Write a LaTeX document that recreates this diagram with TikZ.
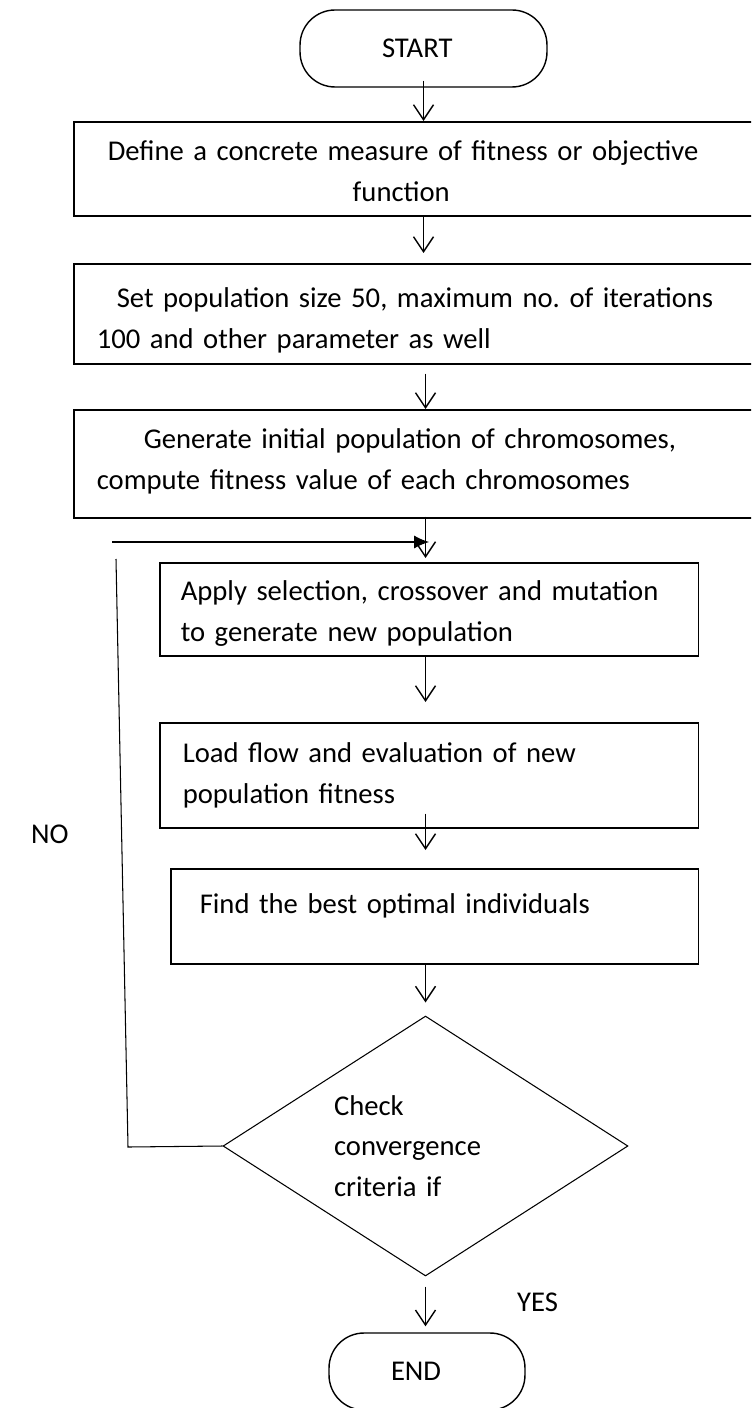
\documentclass[tikz,border=0pt]{standalone}
\usepackage{fontspec}
\setmainfont{Carlito}
\frenchspacing
\usetikzlibrary{shapes,arrows.meta,positioning,calc}

\begin{document}
\begin{tikzpicture}[
    x=0.02cm,
    y=-0.02cm,
    font=\fontsize{16.3}{23}\selectfont,
    terminal/.style={
        rectangle,
        draw,
        line width=0.8pt,
        rounded corners=0.7cm,
        minimum height=1.54cm,
        inner ysep=0pt,
        align=left
    },
    block/.style={
        rectangle,
        draw,
        line width=0.9pt,
        anchor=north west,
        align=left,
        inner ysep=0pt
    },
    decision/.style={
        diamond,
        draw,
        line width=0.6pt,
        aspect=1.56,
        minimum width=8.1cm,
        minimum height=5.2cm,
        inner sep=0pt,
        text width=3.66cm,
        align=left
    },
    line/.style={
        draw,
        -{Straight Barb[length=0.3cm,width=0.4cm]},
        line width=0.8pt
    },
    feedback/.style={
        draw,
        line width=0.6pt
    }
]

% Page
\useasboundingbox (0,0) rectangle (751,1408);
\clip (0,0) rectangle (751,1408);

% Nodes
\node [terminal, inner xsep=1.64cm, text width=1.66cm] (start) at (423.5,48.5) {START};
\node [block, minimum width=13.74cm, inner xsep=0.68cm, text width=12.38cm, text height=0.78cm, text depth=1.10cm] (define) at (73,121) {Define a concrete measure of fitness or objective\\\hspace*{4.9cm}function};
\node [block, minimum width=13.74cm, inner xsep=0.46cm, text width=12.82cm, text height=0.88cm, text depth=1.12cm] (params) at (73,263) {\hspace*{0.4cm}Set population size 50, maximum no. of iterations\\100 and other parameter as well};
\node [block, minimum width=13.74cm, inner xsep=0.46cm, text width=12.82cm, text height=0.78cm, text depth=1.38cm] (init) at (73,409) {\hspace*{0.94cm}Generate initial population of chromosomes,\\compute fitness value of each chromosomes};
\node [block, inner xsep=0.42cm, text width=9.94cm, text height=0.76cm, text depth=1.10cm] (apply) at (159,562) {Apply selection, crossover and mutation\\to generate new population};
\node [block, inner xsep=0.46cm, text width=9.86cm, text height=0.80cm, text depth=1.30cm] (load) at (159,722) {Load flow and evaluation of new\\population fitness};
\node [block, inner xsep=0.58cm, text width=9.40cm, text height=0.90cm, text depth=1.00cm] (best) at (170,868) {Find the best optimal individuals};
\node [decision] (check) at (425.5,1146) {Check\\convergence\\criteria if};
\node [terminal, inner xsep=1.24cm, text width=1.44cm] (end) at (427,1371.5) {END};
\node [anchor=base west] (no) at (25,843) {NO};
\node [anchor=base west] (yes) at (511,1311) {YES};

% Edges
\path [line] ([yshift=0.14cm]start.south) -- (start.south |- define.north);
\path [line, shorten >=0.2cm] (start.south |- define.south) -- (start.south |- params.north);
\path [line] ($(params.south -| check.north)+(0,9)$) -- (check.north |- init.north);
\path [line, shorten >=0.08cm] ($(init.south -| check.north)+(0,-2)$) -- (check.north |- apply.north);
\path [line, shorten >=0.4cm] (apply.south -| check.north) -- (check.north |- load.north);
\path [line, shorten >=0.36cm] ($(load.south -| check.north)+(0,-15)$) -- (check.north |- best.north);
\path [line, shorten >=0.26cm] (best.south -| check.north) -- (check.north);
\path [line, shorten >=0.12cm] ($(check.south)+(0,10)$) -- (check.south |- end.north);

% NO loop back to selection
\coordinate (loopB) at (128,1147);
\coordinate (loopT) at (116,559);
\coordinate (loopL) at (112,542);
\path [feedback] (check.west) -- (loopB) -- (loopT);
\path [draw, -{Latex[length=0.3cm,width=0.26cm]}, line width=1pt] (loopL) -- (loopL -| apply.north);

\end{tikzpicture}
\end{document}
